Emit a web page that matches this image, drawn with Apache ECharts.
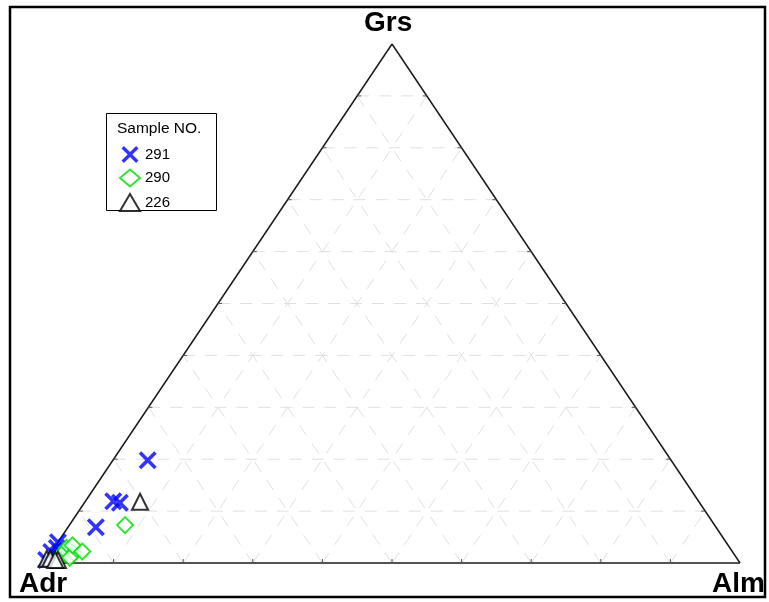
<!DOCTYPE html>
<html>
<head>
<meta charset="utf-8">
<script src="https://cdn.jsdelivr.net/npm/echarts@6/dist/echarts.min.js"></script>
<style>
  html, body { margin: 0; padding: 0; background: #fff; }
  #main { width: 769px; height: 602px; }
</style>
</head>
<body>
<div id="main"></div>
<script>
// ternary end members
const apexNames = ['Grs', 'Adr', 'Alm']
const sampleNames = ['291', '290', '226']

// compositions in % (Grs, Alm); Adr = 100 - Grs - Alm
const grs291 = [19.8, 11.9, 11.6, 6.9, 4.0, 2.1, 0.6, 2.9]
const alm291 = [5.0, 4.0, 5.1, 4.0, 0.0, 0.0, 0.0, 0.4]
const grs290 = [7.3, 2.9, 1.9, 1.6, 0.6, 1.0, 3.4, 2.2]
const alm290 = [8.0, 1.8, 3.3, 1.7, 1.7, 3.2, 2.4, 4.4]
const grs226 = [11.8, 0.8, 0.8, 0.6, 0.6]
const alm226 = [7.9, 0.0, 0.5, 1.7, 1.3]

const levels = [10, 20, 30, 40, 50, 60, 70, 80, 90]

// ternary -> plane (x: 0..100, y: 0..100)
function toXY(g, a) {
  return [a + g / 2, g]
}
function points(gs, as) {
  return gs.map((g, i) => toXY(g, as[i]))
}

// frame of triangle
const edges = [
  toXY(0, 0).concat(toXY(0, 100)),
  toXY(0, 100).concat(toXY(100, 0)),
  toXY(100, 0).concat(toXY(0, 0))
]

// dashed grid lines
const gridLines = []
levels.forEach((k) => {
  gridLines.push(toXY(k, 0).concat(toXY(k, 100 - k)))       // Grs = k
  gridLines.push(toXY(0, k).concat(toXY(100 - k, k)))       // Alm = k
  gridLines.push(toXY(0, 100 - k).concat(toXY(100 - k, 0))) // Adr = k
})

// small ticks: point + pixel direction
const ticks = []
levels.forEach((k) => {
  ticks.push(toXY(k, 0).concat([4, 0]))        // left edge
  ticks.push(toXY(k, 100 - k).concat([-4, 0])) // right edge
  ticks.push(toXY(0, k).concat([0, -4]))       // bottom edge
})

const xPath = 'path://M0,2.8L2.8,0L10,7.2L17.2,0L20,2.8L12.8,10L20,17.2L17.2,20L10,12.8L2.8,20L0,17.2L7.2,10Z'

function segItem(stroke, width, dash) {
  return function (params, api) {
    const p1 = api.coord([api.value(0), api.value(1)])
    const p2 = api.coord([api.value(2), api.value(3)])
    return {
      type: 'line',
      shape: { x1: p1[0], y1: p1[1], x2: p2[0], y2: p2[1] },
      style: { stroke: stroke, lineWidth: width, lineDash: dash }
    }
  }
}

const labelFont = { fontSize: 28, fontWeight: 'bold', fill: '#000', fontFamily: 'Liberation Sans' }

const chart = echarts.init(document.getElementById('main'))
const option = {
  animation: false,
  grid: { left: 44, right: 29, top: 44, bottom: 39 },
  xAxis: { type: 'value', min: 0, max: 100, show: false },
  yAxis: { type: 'value', min: 0, max: 100, show: false },
  legend: {
    orient: 'vertical',
    left: 114,
    top: 141,
    itemWidth: 20,
    itemHeight: 17,
    itemGap: 5.5,
    data: sampleNames,
    textStyle: { fontSize: 15, color: '#000', fontFamily: 'Liberation Sans' }
  },
  graphic: [
    { type: 'rect', shape: { x: 10, y: 7, width: 755, height: 590 },
      style: { fill: 'none', stroke: '#000', lineWidth: 2.5 }, z: 100 },
    { type: 'rect', shape: { x: 106.5, y: 113.5, width: 110, height: 97 },
      style: { fill: '#fff', stroke: '#000', lineWidth: 1 }, z: 1 },
    { type: 'text', left: 117, top: 121, z: 2,
      style: { text: 'Sample NO.', fontSize: 15.5, fill: '#000', fontFamily: 'Liberation Sans' } },
    { type: 'text', left: 364, top: 9, z: 2,
      style: Object.assign({ text: apexNames[0] }, labelFont) },
    { type: 'text', left: 19, top: 570, z: 2,
      style: Object.assign({ text: apexNames[1] }, labelFont) },
    { type: 'text', left: 712, top: 570, z: 2,
      style: Object.assign({ text: apexNames[2] }, labelFont) }
  ],
  series: [
    {
      type: 'custom', silent: true, z: 1,
      encode: { x: [0, 2], y: [1, 3] },
      renderItem: segItem('#e0e0e0', 1, [12, 10]),
      data: gridLines
    },
    {
      type: 'custom', silent: true, z: 2,
      encode: { x: [0, 2], y: [1, 3] },
      renderItem: segItem('#1a1a1a', 1.5, null),
      data: edges
    },
    {
      type: 'custom', silent: true, z: 2,
      encode: { x: 0, y: 1 },
      renderItem: function (params, api) {
        const p = api.coord([api.value(0), api.value(1)])
        return {
          type: 'line',
          shape: { x1: p[0], y1: p[1], x2: p[0] + api.value(2), y2: p[1] + api.value(3) },
          style: { stroke: '#555', lineWidth: 1 }
        }
      },
      data: ticks
    },
    {
      name: sampleNames[0], type: 'scatter', clip: false, z: 5,
      symbol: xPath, symbolSize: 18,
      itemStyle: { color: '#0000ff' },
      data: points(grs291, alm291)
    },
    {
      name: sampleNames[1], type: 'scatter', clip: false, z: 6,
      symbol: 'emptyDiamond', symbolSize: 16,
      itemStyle: { color: '#00dd00', borderColor: '#00dd00', borderWidth: 1.6 },
      data: points(grs290, alm290)
    },
    {
      name: sampleNames[2], type: 'scatter', clip: false, z: 7,
      symbol: 'emptyTriangle', symbolSize: 16,
      itemStyle: { color: '#000', borderColor: '#000', borderWidth: 1.4 },
      data: points(grs226, alm226)
    }
  ]
}
chart.setOption(option)
</script>
</body>
</html>
